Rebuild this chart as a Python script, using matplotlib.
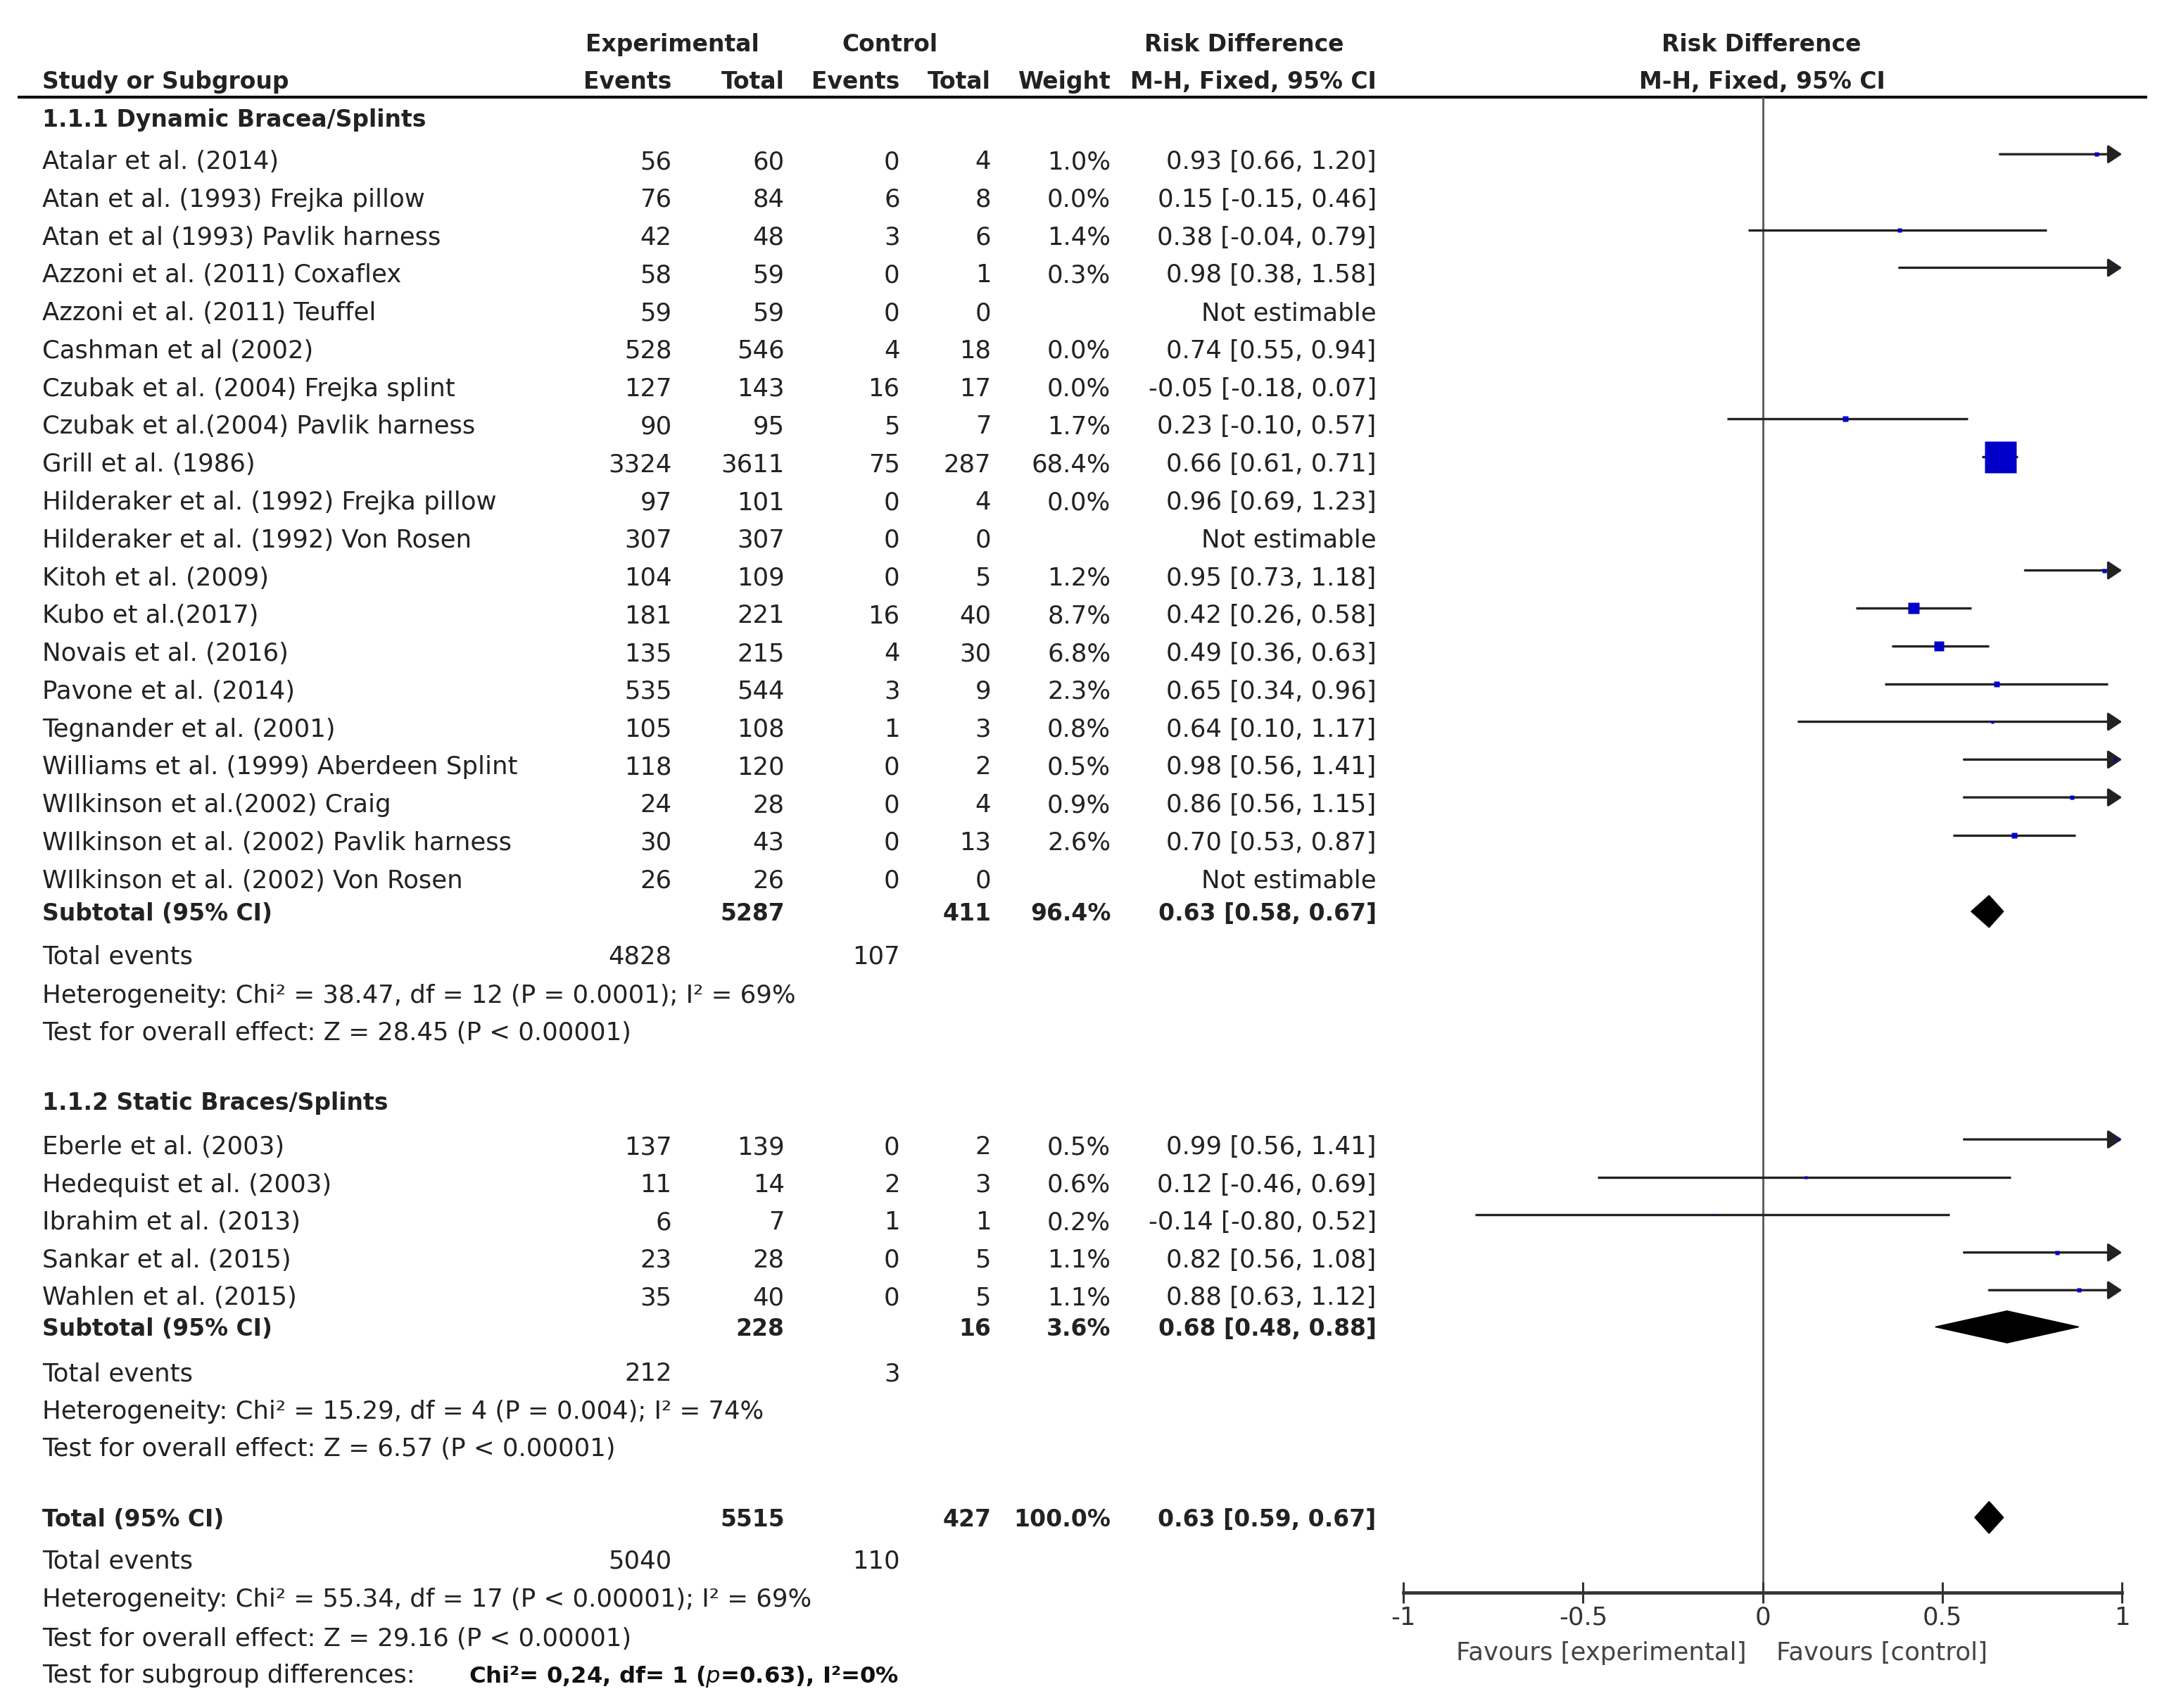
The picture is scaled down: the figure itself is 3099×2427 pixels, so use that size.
import numpy as np
import matplotlib.pyplot as plt
from matplotlib.patches import Polygon

plt.rcParams['font.family'] = ['DejaVu Sans']

# ---- data: 1.1.1 dynamic braces/splints
names1 = ['Atalar et al. (2014)', 'Atan et al. (1993) Frejka pillow', 'Atan et al (1993) Pavlik harness',
          'Azzoni et al. (2011) Coxaflex', 'Azzoni et al. (2011) Teuffel', 'Cashman et al (2002)',
          'Czubak et al. (2004) Frejka splint', 'Czubak et al.(2004) Pavlik harness', 'Grill et al. (1986)',
          'Hilderaker et al. (1992) Frejka pillow', 'Hilderaker et al. (1992) Von Rosen', 'Kitoh et al. (2009)',
          'Kubo et al.(2017)', 'Novais et al. (2016)', 'Pavone et al. (2014)', 'Tegnander et al. (2001)',
          'Williams et al. (1999) Aberdeen Splint', 'WIlkinson et al.(2002) Craig',
          'WIlkinson et al. (2002) Pavlik harness', 'WIlkinson et al. (2002) Von Rosen']
exp_ev1 = [56, 76, 42, 58, 59, 528, 127, 90, 3324, 97, 307, 104, 181, 135, 535, 105, 118, 24, 30, 26]
exp_tot1 = [60, 84, 48, 59, 59, 546, 143, 95, 3611, 101, 307, 109, 221, 215, 544, 108, 120, 28, 43, 26]
ctl_ev1 = [0, 6, 3, 0, 0, 4, 16, 5, 75, 0, 0, 0, 16, 4, 3, 1, 0, 0, 0, 0]
ctl_tot1 = [4, 8, 6, 1, 0, 18, 17, 7, 287, 4, 0, 5, 40, 30, 9, 3, 2, 4, 13, 0]
w1 = [1.0, 0.0, 1.4, 0.3, None, 0.0, 0.0, 1.7, 68.4, 0.0, None, 1.2, 8.7, 6.8, 2.3, 0.8, 0.5, 0.9, 2.6, None]
rd1 = [0.93, 0.15, 0.38, 0.98, None, 0.74, -0.05, 0.23, 0.66, 0.96, None, 0.95, 0.42, 0.49, 0.65, 0.64, 0.98, 0.86, 0.70, None]
lo1 = [0.66, -0.15, -0.04, 0.38, None, 0.55, -0.18, -0.10, 0.61, 0.69, None, 0.73, 0.26, 0.36, 0.34, 0.10, 0.56, 0.56, 0.53, None]
hi1 = [1.20, 0.46, 0.79, 1.58, None, 0.94, 0.07, 0.57, 0.71, 1.23, None, 1.18, 0.58, 0.63, 0.96, 1.17, 1.41, 1.15, 0.87, None]

# ---- data: 1.1.2 static braces/splints
names2 = ['Eberle et al. (2003)', 'Hedequist et al. (2003)', 'Ibrahim et al. (2013)',
          'Sankar et al. (2015)', 'Wahlen et al. (2015)']
exp_ev2 = [137, 11, 6, 23, 35]
exp_tot2 = [139, 14, 7, 28, 40]
ctl_ev2 = [0, 2, 1, 0, 0]
ctl_tot2 = [2, 3, 1, 5, 5]
w2 = [0.5, 0.6, 0.2, 1.1, 1.1]
rd2 = [0.99, 0.12, -0.14, 0.82, 0.88]
lo2 = [0.56, -0.46, -0.80, 0.56, 0.63]
hi2 = [1.41, 0.69, 0.52, 1.08, 1.12]

# subtotals (group 1, group 2) and overall
sub_exp_tot = [5287, 228]
sub_ctl_tot = [411, 16]
sub_w = [96.4, 3.6]
sub_rd = [0.63, 0.68]
sub_lo = [0.58, 0.48]
sub_hi = [0.67, 0.88]
sub_exp_ev = [4828, 212]
sub_ctl_ev = [107, 3]
sub_het = ['Heterogeneity: Chi\u00b2 = 38.47, df = 12 (P = 0.0001); I\u00b2 = 69%',
           'Heterogeneity: Chi\u00b2 = 15.29, df = 4 (P = 0.004); I\u00b2 = 74%']
sub_z = ['Test for overall effect: Z = 28.45 (P < 0.00001)',
         'Test for overall effect: Z = 6.57 (P < 0.00001)']
tot_exp_tot, tot_ctl_tot, tot_w = 5515, 427, 100.0
tot_rd, tot_lo, tot_hi = 0.63, 0.59, 0.67
tot_exp_ev, tot_ctl_ev = 5040, 110
tot_het = 'Heterogeneity: Chi\u00b2 = 55.34, df = 17 (P < 0.00001); I\u00b2 = 69%'
tot_z = 'Test for overall effect: Z = 29.16 (P < 0.00001)'
sg_label = 'Test for subgroup differences:'
sg_text = 'Chi\u00b2= 0,24, df= 1 ($p$=0.63), I\u00b2=0%'

tick_vals = [-1, -0.5, 0, 0.5, 1]
tick_labels = ['-1', '-0.5', '0', '0.5', '1']

# ---- layout (units of the 1568 x 1228 page)
W, H = 1568.0, 1228.0
FS, FSB = 12.8, 11.9
TXT = '#222222'
X_NAME, X_EEV, X_ETOT, X_CEV, X_CTOT, X_W, X_CI = 30.5, 483, 564, 647, 712.5, 798.5, 989.5
Y_H1, Y_H2, Y_LINE = 30.4, 57.3, 70
Y_AXIS = 1145
FX0, FX1 = 1009, 1525.6
y_st1 = 114.7 + 27.2 * np.arange(len(names1))
y_st2 = 823.0 + 27.1 * np.arange(len(names2))
Y_G = [84.3, 791.5]
Y_SUB = [655.3, 954.0]
Y_TE = [686.0, 986.0]
Y_HET = [714.0, 1013.0]
Y_OV = [741.0, 1040.0]
Y_TOT, Y_TTE, Y_THET, Y_TOV, Y_SG = 1091, 1120.5, 1148.5, 1176.4, 1203
LINE_SHIFT = -3.8

fig = plt.figure(figsize=(3099 / 200, 2427 / 200), dpi=200)
ax = fig.add_axes([0, 0, 1, 1])
ax.set_xlim(0, W)
ax.set_ylim(H, 0)
ax.axis('off')


def put(x, y, s, ha='left', bold=False, **kw):
    ax.text(x, y, s, ha=ha, va='center_baseline', fontsize=FSB if bold else FS,
            fontweight='bold' if bold else 'normal', color=TXT, **kw)


def pct(w):
    return '' if w is None else '%.1f%%' % w


def ci(r, l, h):
    if r is None:
        return 'Not estimable'
    return '%.2f [%.2f, %.2f]' % (r, l, h)


# headers
put(483.5, Y_H1, 'Experimental', ha='center', bold=True)
put(640, Y_H1, 'Control', ha='center', bold=True)
put(894.6, Y_H1, 'Risk Difference', ha='center', bold=True)
put(1266.5, Y_H1, 'Risk Difference', ha='center', bold=True)
put(X_NAME, Y_H2, 'Study or Subgroup', bold=True)
for x, s in [(X_EEV, 'Events'), (X_ETOT, 'Total'), (X_CEV, 'Events'), (X_CTOT, 'Total'),
             (X_W, 'Weight'), (X_CI, 'M-H, Fixed, 95% CI')]:
    put(x, Y_H2, s, ha='right', bold=True)
put(1267, Y_H2, 'M-H, Fixed, 95% CI', ha='center', bold=True)
ax.plot([12.8, 1543.7], [Y_LINE, Y_LINE], color='k', lw=1.45, solid_capstyle='butt')

# forest axes
fx = fig.add_axes([FX0 / W, 1 - Y_AXIS / H, (FX1 - FX0) / W, (Y_AXIS - Y_LINE) / H])
fx.set_xlim(-1, 1)
fx.set_ylim(Y_AXIS, Y_LINE)
fx.patch.set_visible(False)
for s in ['top', 'left', 'right']:
    fx.spines[s].set_visible(False)
fx.spines['bottom'].set_linewidth(1.7)
fx.spines['bottom'].set_color('#333333')
fx.set_yticks([])
fx.set_xticks(tick_vals)
fx.set_xticklabels(tick_labels)
fx.tick_params(axis='x', direction='inout', length=10.5, width=1.1, pad=1.5,
               labelsize=FS, colors='#333333')
fx.axvline(0, color='#555555', lw=1.0, zorder=1)
fx.text(-0.045, 1186.6, 'Favours [experimental]', ha='right', va='center_baseline',
        fontsize=FS, color='#444444', clip_on=False)
fx.text(0.037, 1186.6, 'Favours [control]', ha='left', va='center_baseline',
        fontsize=FS, color='#444444', clip_on=False)


def study(y, w, r, l, h):
    if w is None or w <= 0:
        return
    yy = y + LINE_SHIFT
    if h > 1:
        fx.annotate('', xy=(1, yy), xytext=(l, yy), annotation_clip=False,
                    arrowprops=dict(arrowstyle='-|>,head_length=0.3,head_width=0.2',
                                    mutation_scale=20, lw=1.2, color='#222222',
                                    shrinkA=0, shrinkB=0), zorder=3)
    else:
        fx.plot([l, h], [yy, yy], color='#222222', lw=1.2, zorder=3, solid_capstyle='butt')
    fx.plot(r, yy, marker='s', ms=16.2 * np.sqrt(w / 68.4), color='#0000C8',
            mec='none', zorder=4, clip_on=False)


def diamond(y, r, l, h):
    fx.add_patch(Polygon([[l, y], [r, y - 11.5], [h, y], [r, y + 11.5]], closed=True,
                         facecolor='black', edgecolor='black', lw=0.5, zorder=4))


groups = [
    ('1.1.1 Dynamic Bracea/Splints', names1, exp_ev1, exp_tot1, ctl_ev1, ctl_tot1, w1, rd1, lo1, hi1, y_st1),
    ('1.1.2 Static Braces/Splints', names2, exp_ev2, exp_tot2, ctl_ev2, ctl_tot2, w2, rd2, lo2, hi2, y_st2),
]
for g, (title, nm, ee, et, ce, ct, ww, rr, ll, hh, ys) in enumerate(groups):
    put(X_NAME, Y_G[g], title, bold=True)
    for i in range(len(nm)):
        y = ys[i]
        put(X_NAME, y, nm[i])
        put(X_EEV, y, str(ee[i]), ha='right')
        put(X_ETOT, y, str(et[i]), ha='right')
        put(X_CEV, y, str(ce[i]), ha='right')
        put(X_CTOT, y, str(ct[i]), ha='right')
        put(X_W, y, pct(ww[i]), ha='right')
        put(X_CI, y, ci(rr[i], ll[i], hh[i]), ha='right')
        study(y, ww[i], rr[i], ll[i], hh[i])
    put(X_NAME, Y_SUB[g], 'Subtotal (95% CI)', bold=True)
    put(X_ETOT, Y_SUB[g], str(sub_exp_tot[g]), ha='right', bold=True)
    put(X_CTOT, Y_SUB[g], str(sub_ctl_tot[g]), ha='right', bold=True)
    put(X_W, Y_SUB[g], pct(sub_w[g]), ha='right', bold=True)
    put(X_CI, Y_SUB[g], ci(sub_rd[g], sub_lo[g], sub_hi[g]), ha='right', bold=True)
    diamond(Y_SUB[g], sub_rd[g], sub_lo[g], sub_hi[g])
    put(X_NAME, Y_TE[g], 'Total events')
    put(X_EEV, Y_TE[g], str(sub_exp_ev[g]), ha='right')
    put(X_CEV, Y_TE[g], str(sub_ctl_ev[g]), ha='right')
    put(X_NAME, Y_HET[g], sub_het[g])
    put(X_NAME, Y_OV[g], sub_z[g])

# overall
put(X_NAME, Y_TOT, 'Total (95% CI)', bold=True)
put(X_ETOT, Y_TOT, str(tot_exp_tot), ha='right', bold=True)
put(X_CTOT, Y_TOT, str(tot_ctl_tot), ha='right', bold=True)
put(X_W, Y_TOT, pct(tot_w), ha='right', bold=True)
put(X_CI, Y_TOT, ci(tot_rd, tot_lo, tot_hi), ha='right', bold=True)
diamond(Y_TOT, tot_rd, tot_lo, tot_hi)
put(X_NAME, Y_TTE, 'Total events')
put(X_EEV, Y_TTE, str(tot_exp_ev), ha='right')
put(X_CEV, Y_TTE, str(tot_ctl_ev), ha='right')
put(X_NAME, Y_THET, tot_het)
put(X_NAME, Y_TOV, tot_z)
put(X_NAME, Y_SG, sg_label)
ax.text(337, Y_SG, sg_text, ha='left', va='center_baseline', fontsize=11.6,
        fontweight='bold', color='#111111')

fig.savefig('out.png', dpi=200)
